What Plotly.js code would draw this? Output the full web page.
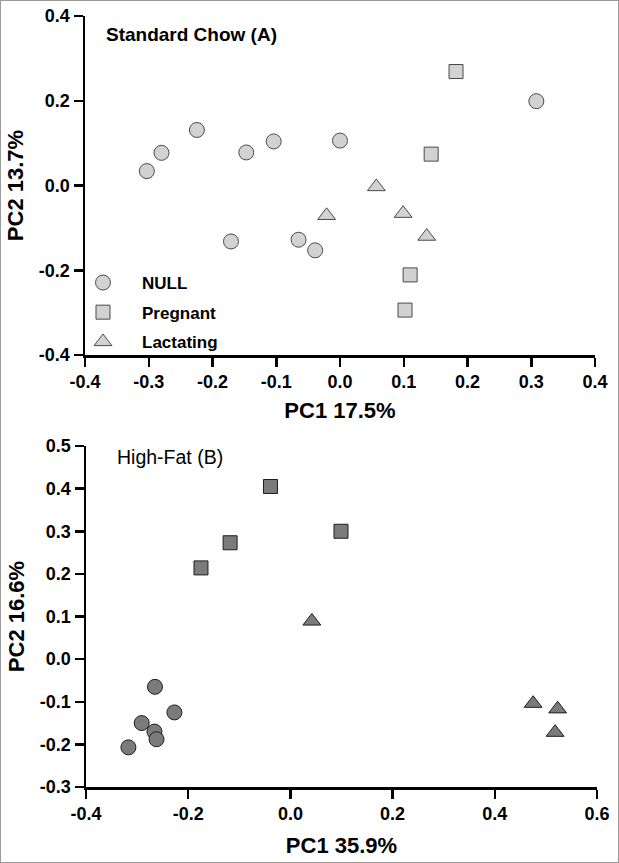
<!DOCTYPE html>
<html><head><meta charset="utf-8">
<script src="https://cdn.plot.ly/plotly-3.0.1.min.js"></script>
<style>html,body{margin:0;padding:0;background:#fff}#plot{width:619px;height:863px}</style>
</head><body><div id="plot"></div>
<script>
// Panel A: Standard Chow
const chowNullX = [-0.303, -0.280, -0.2245, -0.147, -0.104, 0.000, 0.308, -0.171, -0.065, -0.039];
const chowNullY = [0.034, 0.077, 0.131, 0.078, 0.104, 0.106, 0.199, -0.132, -0.128, -0.153];
const chowPregX = [0.182, 0.143, 0.110, 0.102];
const chowPregY = [0.269, 0.074, -0.211, -0.294];
const chowLactX = [0.057, -0.021, 0.099, 0.136];
const chowLactY = [-0.003, -0.071, -0.066, -0.120];
// Panel B: High-Fat
const hfNullX = [-0.265, -0.227, -0.291, -0.266, -0.262, -0.317];
const hfNullY = [-0.065, -0.125, -0.150, -0.170, -0.188, -0.207];
const hfPregX = [-0.175, -0.118, -0.039, 0.099];
const hfPregY = [0.214, 0.273, 0.405, 0.300];
const hfLactX = [0.042, 0.475, 0.523, 0.518];
const hfLactY = [0.089, -0.104, -0.117, -0.172];
// Ticks
const chowTickVals = [-0.4, -0.3, -0.2, -0.1, 0.0, 0.1, 0.2, 0.3, 0.4];
const chowTickText = ["-0.4", "-0.3", "-0.2", "-0.1", "0.0", "0.1", "0.2", "0.3", "0.4"];
const chowYTickVals = [-0.4, -0.2, 0.0, 0.2, 0.4];
const chowYTickText = ["-0.4", "-0.2", "0.0", "0.2", "0.4"];
const hfXTickVals = [-0.4, -0.2, 0.0, 0.2, 0.4, 0.6];
const hfXTickText = ["-0.4", "-0.2", "0.0", "0.2", "0.4", "0.6"];
const hfYTickVals = [-0.3, -0.2, -0.1, 0.0, 0.1, 0.2, 0.3, 0.4, 0.5];
const hfYTickText = ["-0.3", "-0.2", "-0.1", "0.0", "0.1", "0.2", "0.3", "0.4", "0.5"];
const groupNames = ["NULL", "Pregnant", "Lactating"];

const FONT = "Liberation Sans, Arial, sans-serif";
const W = 619, H = 863;
const lightM = {color: "#d2d2d2", line: {color: "#4a4a4a", width: 1}};
const darkM = {color: "#7b7b7b", line: {color: "#1e1e1e", width: 1}};

function tr(x, y, name, sym, size, m, xa, ya, showleg) {
  return {x: x, y: y, type: "scatter", mode: "markers", name: name,
    legendgroup: name, showlegend: showleg, cliponaxis: false,
    xaxis: xa, yaxis: ya,
    marker: {symbol: sym, size: size, color: m.color, line: m.line}};
}
const data = [
  tr(chowNullX, chowNullY, groupNames[0], "circle", 15, lightM, "x", "y", true),
  tr(chowPregX, chowPregY, groupNames[1], "square", 14, lightM, "x", "y", true),
  tr(chowLactX, chowLactY, groupNames[2], "triangle-up", 15.5, lightM, "x", "y", true),
  tr(hfNullX, hfNullY, groupNames[0], "circle", 15, darkM, "x2", "y2", false),
  tr(hfPregX, hfPregY, groupNames[1], "square", 14, darkM, "x2", "y2", false),
  tr(hfLactX, hfLactY, groupNames[2], "triangle-up", 15.5, darkM, "x2", "y2", false)
];

function ax(extra) {
  return Object.assign({
    showgrid: false, zeroline: false, showline: true, linecolor: "#000", linewidth: 2.5,
    ticks: "outside", ticklen: 9, tickwidth: 2.5, tickcolor: "#000",
    tickfont: {family: FONT, size: 18, color: "#000", weight: "bold"},
    fixedrange: true
  }, extra);
}
const titleFont = {family: FONT, size: 22, color: "#000", weight: "bold"};

const layout = {
  width: W, height: H,
  margin: {l: 0, r: 0, t: 0, b: 0},
  paper_bgcolor: "#fff", plot_bgcolor: "#fff",
  showlegend: true,
  legend: {x: 64 / W, y: 1 - 265 / H, xanchor: "left", yanchor: "top",
    font: {family: FONT, size: 17, color: "#000", weight: "bold"},
    itemwidth: 68, traceorder: "grouped", tracegroupgap: 4.5,
    bgcolor: "rgba(0,0,0,0)"},
  xaxis: ax({domain: [85 / W, 595 / W], range: [-0.4, 0.4], anchor: "y",
    tickvals: chowTickVals, ticktext: chowTickText,
    title: {text: "PC1 17.5%", font: titleFont, standoff: 12}}),
  yaxis: ax({domain: [1 - 355 / H, 1 - 16 / H], range: [-0.4, 0.4], anchor: "x",
    tickvals: chowYTickVals, ticktext: chowYTickText,
    title: {text: "PC2 13.7%", font: titleFont, standoff: 9}}),
  xaxis2: ax({domain: [86 / W, 597 / W], range: [-0.4, 0.6], anchor: "y2",
    tickvals: hfXTickVals, ticktext: hfXTickText,
    title: {text: "PC1 35.9%", font: titleFont, standoff: 15}}),
  yaxis2: ax({domain: [1 - 787 / H, 1 - 446 / H], range: [-0.3, 0.5], anchor: "x2",
    tickvals: hfYTickVals, ticktext: hfYTickText,
    title: {text: "PC2 16.6%", font: titleFont, standoff: 9}}),
  annotations: [
    {text: "Standard Chow (A)", xref: "paper", yref: "paper", x: 104 / W, y: 1 - 35 / H,
      xanchor: "left", yanchor: "middle", showarrow: false,
      font: {family: FONT, size: 19, color: "#000", weight: "bold"}},
    {text: "High-Fat (B)", xref: "paper", yref: "paper", x: 115 / W, y: 1 - 457 / H,
      xanchor: "left", yanchor: "middle", showarrow: false,
      font: {family: FONT, size: 19.5, color: "#000"}}
  ],
  shapes: [
    {type: "rect", xref: "paper", yref: "paper", x0: 0, x1: 1, y0: 0, y1: 1,
      line: {color: "#9a9a9a", width: 2}, layer: "above"}
  ]
};
Plotly.newPlot("plot", data, layout, {displayModeBar: false, staticPlot: true});
</script></body></html>
